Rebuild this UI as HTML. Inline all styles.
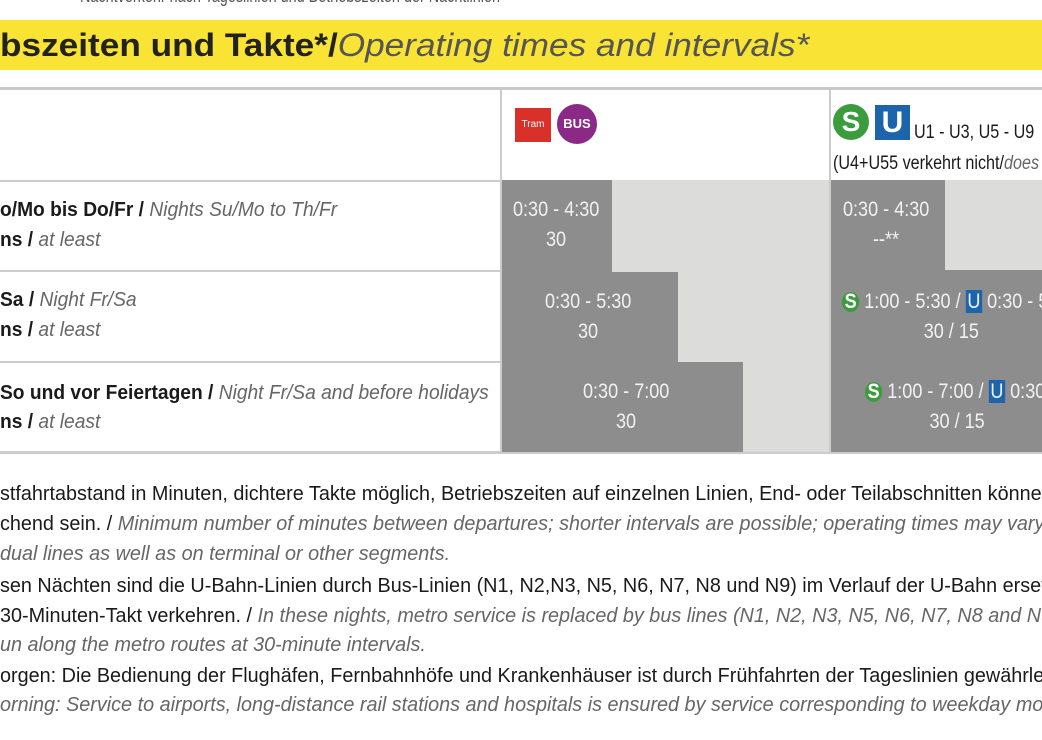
<!DOCTYPE html>
<html><head><meta charset="utf-8"><style>
body{margin:0;width:1042px;height:740px;background:#fff;overflow:hidden;position:relative;font-family:"Liberation Sans",sans-serif;}
.a{position:absolute;white-space:nowrap;transform-origin:0 50%;}
.t{font-size:20px;color:#1a1a1a;transform:scaleX(0.96);line-height:24px;}
.f{transform:scaleX(0.99);}
.i{font-style:italic;color:#666;}
.b{position:absolute;}
.w{color:#f2f2f2;font-size:21px;transform:scaleX(0.86);text-align:center;line-height:30px;}
</style></head><body>
<div class="a" style="left:80px;top:-14px;font-size:18px;color:#555;transform:scaleX(.8)">Nachtverkehr nach Tageslinien und Betriebszeiten der Nachtlinien</div>
<div class="b" style="left:0;top:20px;width:1042px;height:50px;background:#f9e334"></div>
<div class="a" style="left:0;top:27px;font-size:32px;font-weight:bold;color:#222;transform:scaleX(1.1);line-height:36px">bszeiten und Takte*/<span style="font-style:italic;font-weight:normal;color:#555">Operating times and intervals*</span></div>
<!-- table -->
<div class="b" style="left:0;top:87px;width:1042px;height:3px;background:#c8c8c8"></div>
<div class="b" style="left:500px;top:90px;width:2px;height:362px;background:#ccc"></div>
<div class="b" style="left:829px;top:90px;width:2px;height:362px;background:#ccc"></div>
<div class="b" style="left:0;top:180px;width:500px;height:2px;background:#ccc"></div>
<div class="b" style="left:0;top:270px;width:500px;height:2px;background:#ccc"></div>
<div class="b" style="left:0;top:361px;width:500px;height:2px;background:#ccc"></div>
<div class="b" style="left:0;top:451px;width:1042px;height:3px;background:#ccc"></div>
<!-- tram/bus column -->
<div class="b" style="left:502px;top:180px;width:327px;height:272px;background:#dcdcda"></div>
<div class="b" style="left:502px;top:180px;width:110px;height:92px;background:#8d8d8d"></div>
<div class="b" style="left:502px;top:272px;width:176px;height:90px;background:#8d8d8d"></div>
<div class="b" style="left:502px;top:362px;width:241px;height:90px;background:#8d8d8d"></div>
<!-- S/U column -->
<div class="b" style="left:831px;top:180px;width:211px;height:272px;background:#8d8d8d"></div>
<div class="b" style="left:945px;top:180px;width:97px;height:90px;background:#dcdcda"></div>
<!-- icons -->
<div class="b" style="left:515px;top:108px;width:36px;height:34px;background:#d9302a;color:#fff;font-size:10px;line-height:34px;text-align:center">Tram</div>
<div class="b" style="left:557px;top:104px;width:40px;height:40px;border-radius:50%;background:#8b2a86;color:#fff;font-size:13px;font-weight:bold;line-height:40px;text-align:center">BUS</div>
<div class="b" style="left:833px;top:104px;width:36px;height:36px;border-radius:50%;background:#3b9c3e;color:#fff;font-size:28px;font-weight:bold;line-height:36px;text-align:center">S</div>
<div class="b" style="left:875px;top:105px;width:35px;height:35px;background:#1c65ad;color:#fff;font-size:30px;font-weight:bold;line-height:35px;text-align:center">U</div>
<div class="a t" style="left:914px;top:121px;font-size:19px;transform:scaleX(.85)">U1 - U3, U5 - U9</div>
<div class="a t" style="left:833px;top:152px;font-size:19px;transform:scaleX(.85)">(U4+U55 verkehrt nicht/<span class="i">does not run</span>)</div>
<!-- cells text -->
<div class="a w" style="left:513px;top:195px;width:100px;">0:30 - 4:30<br>30</div>
<div class="a w" style="left:545px;top:287px;width:100px">0:30 - 5:30<br>30</div>
<div class="a w" style="left:583px;top:377px;width:100px">0:30 - 7:00<br>30</div>
<div class="a w" style="left:843px;top:195px;width:100px">0:30 - 4:30<br>--**</div>
<div class="a w" style="left:842px;top:287px;width:260px;text-align:left"><span style="display:inline-block;width:20px;height:20px;border-radius:50%;background:#3b9c3e;color:#fff;font-weight:bold;line-height:20px;text-align:center">S</span> 1:00 - 5:30 / <span style="background:#1c65ad;padding:0 2px">U</span> 0:30 - 5:30<br><span style="padding-left:95px">30 / 15</span></div>
<div class="a w" style="left:865px;top:377px;width:260px;text-align:left"><span style="display:inline-block;width:20px;height:20px;border-radius:50%;background:#3b9c3e;color:#fff;font-weight:bold;line-height:20px;text-align:center">S</span> 1:00 - 7:00 / <span style="background:#1c65ad;padding:0 2px">U</span> 0:30 - 7:00<br><span style="padding-left:75px">30 / 15</span></div>
<!-- left labels -->
<div class="a t" style="left:0;top:198px;font-weight:bold">o/Mo bis Do/Fr / <span class="i" style="font-weight:normal">Nights Su/Mo to Th/Fr</span></div>
<div class="a t" style="left:0;top:228px;font-weight:bold">ns / <span class="i" style="font-weight:normal">at least</span></div>
<div class="a t" style="left:0;top:288px;font-weight:bold">Sa / <span class="i" style="font-weight:normal">Night Fr/Sa</span></div>
<div class="a t" style="left:0;top:318px;font-weight:bold">ns / <span class="i" style="font-weight:normal">at least</span></div>
<div class="a t" style="left:0;top:381px;font-weight:bold">So und vor Feiertagen / <span class="i" style="font-weight:normal">Night Fr/Sa and before holidays</span></div>
<div class="a t" style="left:0;top:410px;font-weight:bold">ns / <span class="i" style="font-weight:normal">at least</span></div>
<!-- footnotes -->
<div class="a t f" style="left:0;top:482px">stfahrtabstand in Minuten, dichtere Takte möglich, Betriebszeiten auf einzelnen Linien, End- oder Teilabschnitten können</div>
<div class="a t f" style="left:0;top:512px">chend sein. / <span class="i">Minimum number of minutes between departures; shorter intervals are possible; operating times may vary</span></div>
<div class="a t f i" style="left:0;top:542px">dual lines as well as on terminal or other segments.</div>
<div class="a t f" style="left:0;top:574px">sen Nächten sind die U-Bahn-Linien durch Bus-Linien (N1, N2,N3, N5, N6, N7, N8 und N9) im Verlauf der U-Bahn ersetzt</div>
<div class="a t f" style="left:0;top:604px">30-Minuten-Takt verkehren. / <span class="i">In these nights, metro service is replaced by bus lines (N1, N2, N3, N5, N6, N7, N8 and N9)</span></div>
<div class="a t f i" style="left:0;top:633px">un along the metro routes at 30-minute intervals.</div>
<div class="a t f" style="left:0;top:664px">orgen: Die Bedienung der Flughäfen, Fernbahnhöfe und Krankenhäuser ist durch Frühfahrten der Tageslinien gewährleistet</div>
<div class="a t f i" style="left:0;top:693px">orning: Service to airports, long-distance rail stations and hospitals is ensured by service corresponding to weekday mornings</div>
</body></html>
